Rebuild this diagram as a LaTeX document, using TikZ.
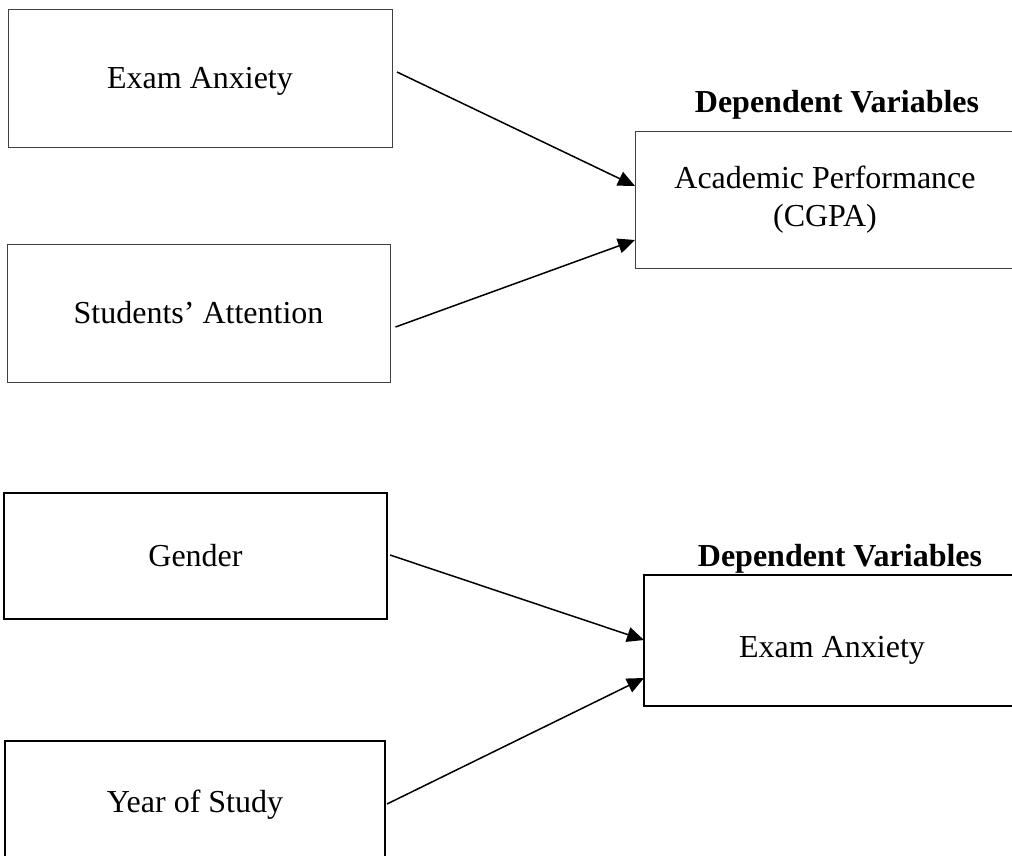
\documentclass[tikz,border=0pt]{standalone}
\usepackage{fontspec}
\setmainfont{Liberation Serif}
\usetikzlibrary{arrows.meta}
\tikzset{
  topbox/.style={draw=black!75, line width=1pt, inner sep=0pt, outer sep=0pt, align=center, font=\fontsize{32}{38}\selectfont},
  botbox/.style={draw=black, line width=1.7pt, inner sep=0pt, outer sep=0pt, align=center, font=\fontsize{32}{38}\selectfont},
  heading/.style={font=\fontsize{32}{38}\selectfont\bfseries, inner sep=0pt},
  link/.style={line width=1.5pt, -{Triangle[length=17pt,width=15pt]}}
}
\begin{document}
\begin{tikzpicture}[x=1pt,y=1pt]
\useasboundingbox (0,0) rectangle (1012,-855);
\clip (0,0) rectangle (1012,-855);
% top diagram
\node[topbox, minimum width=384pt, minimum height=138pt, text height=21pt, text depth=0pt] (ea) at (200,-78) {Exam Anxiety};
\node[topbox, minimum width=383pt, minimum height=138pt] (sa) at (198.5,-313) {Students’ Attention};
\node[topbox, minimum width=380pt, minimum height=137pt] (ap) at (825,-199.5) {Academic Performance\\(CGPA)};
\node[heading] (h1) at (837,-105) {Dependent Variables};
\draw[link] ([xshift=5pt,yshift=6pt]ea.east) -- ([yshift=13.5pt]ap.west);
\draw[link] ([xshift=5.5pt,yshift=-14pt]sa.east) -- ([yshift=-40.5pt]ap.west);
% bottom diagram
\node[botbox, minimum width=383pt, minimum height=126pt] (g) at (195.5,-556) {Gender};
\node[botbox, minimum width=380pt, minimum height=128pt] (ys) at (195,-805) {Year of Study};
\node[botbox, minimum width=376pt, minimum height=131pt, text height=33pt, text depth=0pt] (ex) at (832,-640.5) {Exam Anxiety};
\node[heading] (h2) at (840,-559) {Dependent Variables};
\draw[link] ([xshift=3pt,yshift=1pt]g.east) -- ([yshift=0.5pt]ex.west);
\draw[link] ([xshift=2pt,yshift=1pt]ys.east) -- ([yshift=-37.5pt]ex.west);
\end{tikzpicture}
\end{document}
